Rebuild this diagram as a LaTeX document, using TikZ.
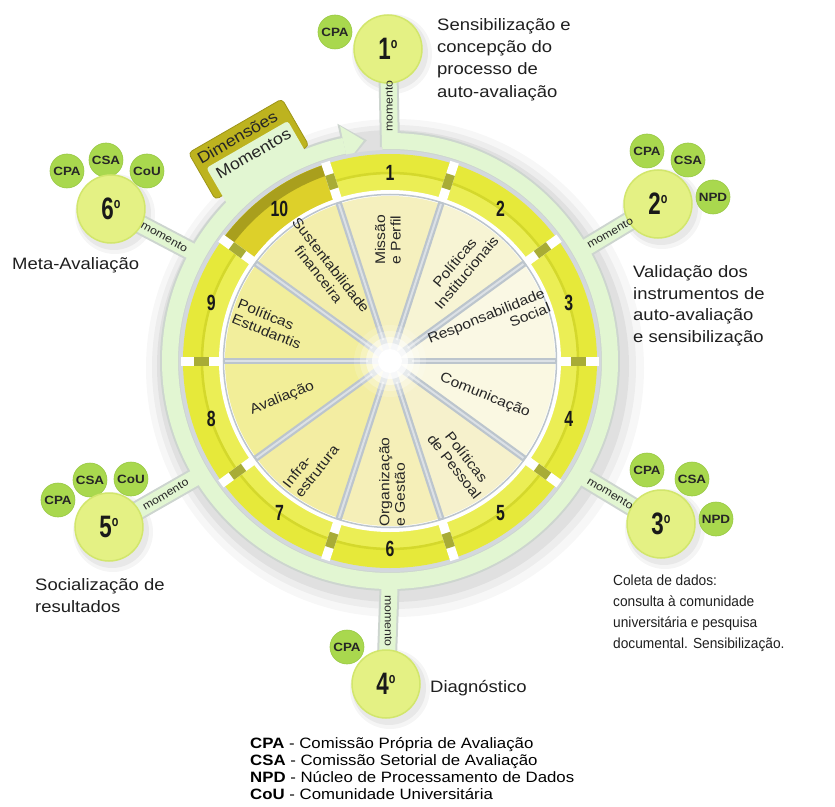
\documentclass[tikz,border=0pt]{standalone}
\usepackage{fontspec}
\setmainfont{Liberation Sans}[FakeStretch=1.12]
\newfontfamily\narrowsans{Liberation Sans}[FakeStretch=0.94]
\newfontfamily\numfont{Liberation Sans}[FakeStretch=0.72]
\usetikzlibrary{calc}
\pgfdeclarelayer{shadowlayer}
\pgfdeclarelayer{bglayer}
\pgfsetlayers{shadowlayer,bglayer,main}
\definecolor{ringgreen}{HTML}{E2F6D2}
\definecolor{ringedge}{HTML}{CDD5CF}
\definecolor{momfill}{HTML}{E4F184}
\definecolor{momedge}{HTML}{D2E66C}
\definecolor{satfill}{HTML}{A9D84E}
\definecolor{satedge}{HTML}{98C843}
\definecolor{bandy}{HTML}{E6E93A}
\definecolor{bandin}{HTML}{EBEE55}
\definecolor{bandline}{HTML}{D4D82C}
\definecolor{gapolive}{HTML}{A8AC36}
\definecolor{segten}{HTML}{DDD02A}
\definecolor{segtendark}{HTML}{A99F1D}
\definecolor{tabolive}{HTML}{BDB31F}
\definecolor{tabedge}{HTML}{9D9518}
\definecolor{divgray}{HTML}{BCC5CD}
\definecolor{divlight}{HTML}{DCE1E6}
\definecolor{gapgray}{HTML}{D3D8DD}
\definecolor{wa}{HTML}{F5F0BE}
\definecolor{wb}{HTML}{F7F4D4}
\definecolor{wc}{HTML}{FAF8E4}
\definecolor{wd}{HTML}{FAF8E2}
\definecolor{we}{HTML}{F6F1CC}
\definecolor{wf}{HTML}{F5EFB8}
\definecolor{wg}{HTML}{F3EDA2}
\definecolor{wh}{HTML}{F2EE98}
\definecolor{wi}{HTML}{F2EE9C}
\definecolor{wj}{HTML}{F3EEAC}
\newcommand{\ordn}[1]{#1\raisebox{11pt}{\fontsize{15}{15}\selectfont o}}
\begin{document}
\begin{tikzpicture}[x=1pt,y=1pt,
  mom/.style={circle, minimum size=68pt, inner sep=0pt, fill=momfill, draw=momedge, line width=1.5pt, font=\numfont\bfseries\fontsize{31}{31}\selectfont, text=black!90},
  sat/.style={circle, minimum size=34pt, inner sep=0pt, fill=satfill, draw=satedge, line width=0.6pt, font=\bfseries\fontsize{12}{12}\selectfont, text=black!85},
  momlab/.style={font=\fontsize{11}{11}\selectfont, inner sep=0pt, text=black!85},
  desc/.style={font=\fontsize{16.5}{20}\selectfont, anchor=base west, inner sep=0pt, text=black!88},
  descn/.style={font=\narrowsans\fontsize{14.6}{18}\selectfont, anchor=base west, inner sep=0pt, text=black!88},
  legend/.style={font=\fontsize{15}{17}\selectfont, anchor=base west, inner sep=0pt, text=black},
  bandnum/.style={font=\numfont\bfseries\fontsize{22}{22}\selectfont, inner sep=0pt, text=black!90},
  wlab/.style={font=\fontsize{14}{15.5}\selectfont, inner sep=0pt, text=black!85},
  tabtext/.style={font=\fontsize{16}{16}\selectfont, inner sep=0pt, text=black!85}
]
\useasboundingbox (-390,-445) rectangle (445,361);

% ---------- momento circles ----------
\node[sat] (s1a) at (-55,329) {CPA};
\node[mom] (m1) at (-2,312) {\ordn{1}};

\node[sat] (s2a) at (257,210) {CPA};
\node[sat] (s2b) at (298,201) {CSA};
\node[sat] (s2c) at (323,164) {NPD};
\node[mom] (m2) at (268,157) {\ordn{2}};

\node[sat] (s3a) at (257,-109) {CPA};
\node[sat] (s3b) at (302,-118) {CSA};
\node[sat] (s3c) at (326,-158) {NPD};
\node[mom] (m3) at (271,-163) {\ordn{3}};

\node[sat] (s4a) at (-43,-286) {CPA};
\node[mom] (m4) at (-4,-323) {\ordn{4}};

\node[sat] (s5a) at (-332,-139) {CPA};
\node[sat] (s5b) at (-300,-119) {CSA};
\node[sat] (s5c) at (-259,-118) {CoU};
\node[mom] (m5) at (-281,-166) {\ordn{5}};

\node[sat] (s6a) at (-323,190) {CPA};
\node[sat] (s6b) at (-284,201) {CSA};
\node[sat] (s6c) at (-243,190) {CoU};
\node[mom] (m6) at (-279,152) {\ordn{6}};

\foreach \k/\a in {1/90,2/30,3/-31,4/-90,5/-149,6/151}
  \coordinate (r\k) at (\a:214);

% ---------- background and shadows ----------
\begin{pgfonlayer}{shadowlayer}
  \fill[white] (-390,-445) rectangle (445,361);
  \fill[black, opacity=0.05] (3,-5) circle (236);
  \fill[black, opacity=0.04] (4,-6) circle (242);
  \fill[black, opacity=0.03] (5,-7) circle (249);
  \foreach \k in {1,...,6} {
    \fill[black, opacity=0.05] ($(m\k)+(3,-4)$) circle (37);
    \fill[black, opacity=0.04] ($(m\k)+(4,-5)$) circle (40);
  }
\end{pgfonlayer}

% ---------- ring and connector bars ----------
\begin{pgfonlayer}{bglayer}
  \draw[ringedge, line width=20pt] (92:220) arc[start angle=92, end angle=-258, radius=220];
  \foreach \k in {1,...,6} \draw[ringedge, line width=20pt] (r\k) -- (m\k.center);
  \fill[ringedge] (102.5:201) -- (96:222) -- (102.5:243) -- cycle;
  \draw[ringgreen, line width=16pt] (92:220) arc[start angle=92, end angle=-258, radius=220];
  \foreach \k in {1,...,6} \draw[ringgreen, line width=16pt] (r\k) -- (m\k.center);
  \fill[ringgreen] (102:204) -- (96.8:222) -- (102:240) -- cycle;
\end{pgfonlayer}

\node[momlab, rotate=90] (t1) at ($(r1)!0.42!(m1)$) {momento};
\node[momlab, rotate=30] (t2) at ($(r2)!0.42!(m2)$) {momento};
\node[momlab, rotate=-31] (t3) at ($(r3)!0.42!(m3)$) {momento};
\node[momlab, rotate=-90] (t4) at ($(r4)!0.42!(m4)$) {momento};
\node[momlab, rotate=31] (t5) at ($(r5)!0.42!(m5)$) {momento};
\node[momlab, rotate=-29] (t6) at ($(r6)!0.42!(m6)$) {momento};

% ---------- wheel ----------
\fill[gapgray] (0,0) circle (211);
\fill[bandy] (0,0) circle (207);
\fill[bandin] (0,0) circle (187);
\draw[bandline, line width=2.5pt] (0,0) circle (188);
\fill[segten] (108:207) arc[start angle=108, end angle=144, radius=207] -- (144:171) arc[start angle=144, end angle=108, radius=171] -- cycle;
\fill[segtendark] (108:207) arc[start angle=108, end angle=144, radius=207] -- (144:196) arc[start angle=144, end angle=108, radius=196] -- cycle;
\foreach \a in {0,36,...,324} {
  \fill[white, rotate=\a] (169,-4.5) rectangle (209,4.5);
  \fill[gapolive, rotate=\a] (181,-4.5) rectangle (196,4.5);
}
\fill[white] (0,0) circle (171);
\draw[divgray, line width=1.5pt] (0,0) circle (166.5);
\foreach \i/\c in {1/wa,2/wb,3/wc,4/wd,5/we,6/wf,7/wg,8/wh,9/wi,10/wj} {
  \pgfmathsetmacro{\ta}{90-36*(\i-1)-18}
  \pgfmathsetmacro{\tb}{90-36*(\i-1)+18}
  \fill[\c] (0,0) -- (\ta:165) arc[start angle=\ta, end angle=\tb, radius=165] -- cycle;
}
\foreach \a in {0,36,...,324} {
  \draw[divgray, line width=6.5pt] (0,0) -- (\a:167);
  \draw[divlight, line width=2pt] (\a:22) -- (\a:165);
}
\foreach \r/\o in {36/0.15,30/0.25,24/0.45,18/0.7,12/1} \fill[white, opacity=\o] (0,0) circle (\r);

\foreach \i in {1,...,10} {
  \pgfmathsetmacro{\th}{90-36*(\i-1)}
  \node[bandnum] (b\i) at (\th:188) {\i};
}

% ---------- wedge labels ----------
\node[wlab, rotate=90, align=center] (d1) at (91:121) {Missão\\e Perfil};
\node[wlab, rotate=50, align=center] (d2) at (53:117) {Políticas\\Institucionais};
\node[wlab, rotate=22, align=right] (d3) at (21:106) {Responsabilidade\\Social};
\node[wlab, rotate=-22, align=center] (d4) at (-20:101) {Comunicação};
\node[wlab, rotate=-52, align=center] (d5) at (-55:123) {Políticas\\de Pessoal};
\node[wlab, rotate=90, align=left] (d6) at (-89:121) {Organização\\e Gestão};
\node[wlab, rotate=52, align=left] (d7) at (-127:132) {Infra-\\estrutura};
\node[wlab, rotate=22, align=center] (d8) at (-161:114) {Avaliação};
\node[wlab, rotate=-22, align=left] (d9) at (163:126) {Políticas\\Estudantis};
\node[wlab, rotate=-52, align=center] (d10) at (125.5:112) {Sustentabilidade\\financeira};

% ---------- tab ----------
\begin{scope}[shift={(125:258)}, rotate=30]
  \fill[tabolive, draw=tabedge, line width=0.8pt, rounded corners=4pt] (-48,-30) rectangle (60,24);
  \fill[ringgreen, rounded corners=3pt] (-40,-44) rectangle (54,2);
  \node[tabtext, rotate=30] (dim) at (2,13) {Dimensões};
  \node[tabtext, rotate=30] (mnt) at (8,-9) {Momentos};
\end{scope}

% ---------- descriptions ----------
\node[desc] (a1) at (47,330) {Sensibilização e};
\node[desc] (a2) at (47,308) {concepção do};
\node[desc] (a3) at (47,286) {processo de};
\node[desc] (a4) at (47,263) {auto-avaliação};

\node[desc] (v1) at (243,84) {Validação dos};
\node[desc] (v2) at (243,62) {instrumentos de};
\node[desc] (v3) at (243,41) {auto-avaliação};
\node[desc] (v4) at (243,19) {e sensibilização};

\node[descn] (c1) at (223,-224) {Coleta de dados:};
\node[descn] (c2) at (223,-245) {consulta à comunidade};
\node[descn] (c3) at (223,-266) {universitária e pesquisa};
\node[descn] (c4) at (223,-287) {documental. Sensibilização.};

\node[desc] (g1) at (40,-331) {Diagnóstico};

\node[desc] (o1) at (-355,-229) {Socialização de};
\node[desc] (o2) at (-355,-251) {resultados};

\node[desc] (e1) at (-378,91) {Meta-Avaliação};

% ---------- legend ----------
\node[legend] (l1) at (-140,-387) {\textbf{CPA} - Comissão Própria de Avaliação};
\node[legend] (l2) at (-140,-404) {\textbf{CSA} - Comissão Setorial de Avaliação};
\node[legend] (l3) at (-140,-421) {\textbf{NPD} - Núcleo de Processamento de Dados};
\node[legend] (l4) at (-140,-438) {\textbf{CoU} - Comunidade Universitária};
\end{tikzpicture}
\end{document}
